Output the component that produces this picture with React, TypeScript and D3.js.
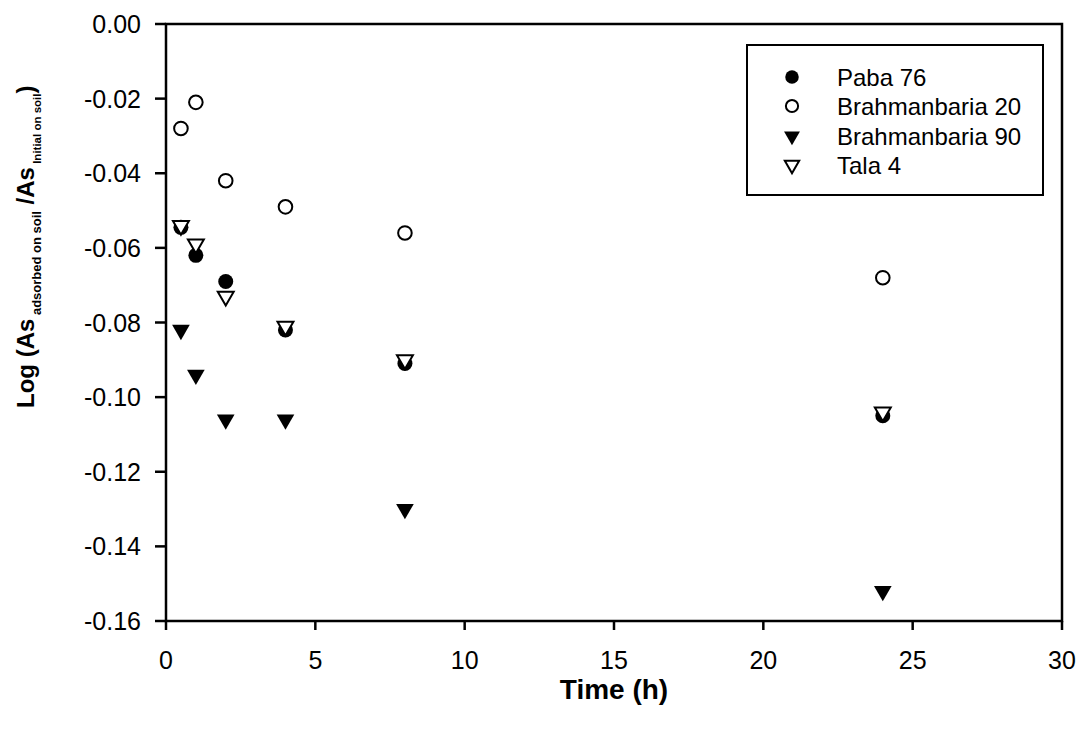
import React from "react";
import * as d3 from "d3";

const times = [0.5, 1, 2, 4, 8, 24];
const paba76 = [-0.0545, -0.062, -0.069, -0.082, -0.091, -0.105];
const brahmanbaria20 = [-0.028, -0.021, -0.042, -0.049, -0.056, -0.068];
const brahmanbaria90 = [-0.082, -0.094, -0.106, -0.106, -0.130, -0.152];
const tala4 = [-0.054, -0.059, -0.073, -0.081, -0.090, -0.104];

const seriesNames = ["Paba 76", "Brahmanbaria 20", "Brahmanbaria 90", "Tala 4"];
const xTicks = [0, 5, 10, 15, 20, 25, 30];
const yTicks = [0, -0.02, -0.04, -0.06, -0.08, -0.1, -0.12, -0.14, -0.16];

const W = 1081;
const H = 729;
const left = 166;
const right = 1062;
const top = 24;
const bottom = 621;

const FONT = "Liberation Sans, Arial, sans-serif";

type Kind = "fcircle" | "ocircle" | "ftri" | "otri";

function Marker({ kind, x, y, s = 1 }: { kind: Kind; x: number; y: number; s?: number }) {
  if (kind === "fcircle" || kind === "ocircle") {
    const filled = kind === "fcircle";
    return (
      <circle
        cx={x}
        cy={y}
        r={(filled ? 7.5 : 6.8) * s}
        fill={filled ? "#000" : "#fff"}
        stroke="#000"
        strokeWidth={filled ? 0 : 2}
      />
    );
  }
  const filled = kind === "ftri";
  const path = d3.symbol().type(d3.symbolTriangle).size(filled ? 135 * s * s : 110 * s * s)();
  return (
    <path
      d={path || ""}
      transform={`translate(${x},${y}) rotate(180)`}
      fill={filled ? "#000" : "#fff"}
      stroke="#000"
      strokeWidth={filled ? 0 : 2}
      strokeLinejoin="miter"
    />
  );
}

const fmtTick = (t: number) => {
  const s = Math.abs(t).toFixed(2);
  return t < 0 ? `-${s}` : s;
};

export default function App() {
  const x = d3.scaleLinear().domain([0, 30]).range([left, right]);
  const y = d3.scaleLinear().domain([-0.16, 0]).range([bottom, top]);

  const series: { name: string; vals: number[]; kind: Kind }[] = [
    { name: seriesNames[0], vals: paba76, kind: "fcircle" },
    { name: seriesNames[1], vals: brahmanbaria20, kind: "ocircle" },
    { name: seriesNames[2], vals: brahmanbaria90, kind: "ftri" },
    { name: seriesNames[3], vals: tala4, kind: "otri" },
  ];

  const legendRows = [77, 106, 136, 165];

  return (
    <svg
      width={W}
      height={H}
      style={{ position: "absolute", left: 0, top: 0, background: "#fff" }}
      fontFamily={FONT}
    >
      <rect x={0} y={0} width={W} height={H} fill="#fff" />
      {/* frame */}
      <rect
        x={left}
        y={top}
        width={right - left}
        height={bottom - top}
        fill="none"
        stroke="#000"
        strokeWidth={2.5}
      />
      {/* y ticks */}
      {yTicks.map((t) => (
        <g key={`y${t}`}>
          <line x1={left - 11} x2={left} y1={y(t)} y2={y(t)} stroke="#000" strokeWidth={2.5} />
          <text
            x={141}
            y={y(t)}
            textAnchor="end"
            dominantBaseline="central"
            fontSize={25}
            fill="#000"
          >
            {fmtTick(t)}
          </text>
        </g>
      ))}
      {/* x ticks */}
      {xTicks.map((t) => (
        <g key={`x${t}`}>
          <line x1={x(t)} x2={x(t)} y1={bottom} y2={bottom + 9} stroke="#000" strokeWidth={2.5} />
          <text x={x(t)} y={669} textAnchor="middle" fontSize={25} fill="#000">
            {t}
          </text>
        </g>
      ))}
      {/* axis titles */}
      <text x={(left + right) / 2} y={699} textAnchor="middle" fontSize={28} fontWeight="bold">
        Time (h)
      </text>
      <text
        transform={`translate(34,408) rotate(-90)`}
        textAnchor="start"
        fontSize={24}
        fontWeight="bold"
      >
        <tspan>Log (As</tspan>
        <tspan fontSize={13} dy={7}> adsorbed on soil</tspan>
        <tspan dy={-7}> /As</tspan>
        <tspan fontSize={11.5} dy={7}> Initial on soil</tspan>
        <tspan dy={-7}>)</tspan>
      </text>
      {/* data */}
      {series.map((s) => (
        <g key={s.name}>
          {s.vals.map((v, i) => (
            <Marker key={i} kind={s.kind} x={x(times[i])} y={y(v)} />
          ))}
        </g>
      ))}
      {/* legend */}
      <rect x={747} y={45} width={296} height={150} fill="#fff" stroke="#000" strokeWidth={2} />
      {series.map((s, i) => (
        <g key={`lg${s.name}`}>
          <Marker kind={s.kind} x={792} y={legendRows[i]} s={0.9} />
          <text x={837} y={legendRows[i]} dominantBaseline="central" fontSize={24} fill="#000">
            {s.name}
          </text>
        </g>
      ))}
    </svg>
  );
}
